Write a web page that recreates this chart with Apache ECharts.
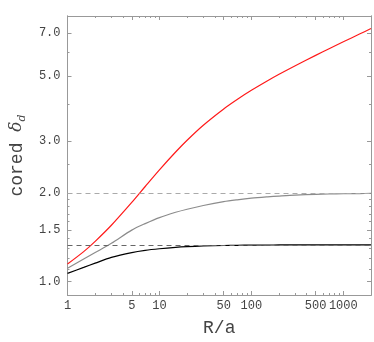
<!DOCTYPE html>
<html>
<head>
<meta charset="utf-8">
<script src="https://cdn.jsdelivr.net/npm/echarts@6/dist/echarts.min.js"></script>
<style>
  html, body { margin: 0; padding: 0; background: #fff; }
  #chart { width: 374px; height: 342px; }
</style>
</head>
<body>
<div id="chart"></div>
<script>
// R/a 采样点与三条曲线
const radii = [1, 1.5, 2, 3, 5, 7, 10, 15, 20, 30, 50, 70, 100, 150, 200, 300, 500, 700, 1000, 1500, 2000]
const redDelta = [1.147, 1.264, 1.370, 1.554, 1.858, 2.105, 2.398, 2.758, 3.024, 3.401, 3.864, 4.160, 4.469, 4.816, 5.066, 5.418, 5.877, 6.191, 6.537, 6.945, 7.25]
const grayDelta = [1.11, 1.193, 1.255, 1.349, 1.496, 1.574, 1.650, 1.720, 1.762, 1.814, 1.870, 1.897, 1.921, 1.941, 1.953, 1.968, 1.980, 1.985, 1.989, 1.992, 1.994]
const blackDelta = [1.066, 1.117, 1.155, 1.208, 1.255, 1.277, 1.293, 1.307, 1.314, 1.321, 1.326, 1.3284, 1.330, 1.3312, 1.3318, 1.3323, 1.3327, 1.3329, 1.3330, 1.3331, 1.3332]
const asymptotes = [2, 4 / 3]

const xMajor = [1, 5, 10, 50, 100, 500, 1000]
const xMinor = [2, 3, 4, 6, 7, 8, 9, 20, 30, 40, 60, 70, 80, 90, 200, 300, 400, 600, 700, 800, 900, 2000]
const yMajor = [1.0, 1.5, 2.0, 3.0, 5.0, 7.0]
const yMinor = [0.9, 1.1, 1.2, 1.3, 1.4, 1.6, 1.7, 1.8, 1.9, 2.5, 4, 6, 8]

const FRAME = '#999'
const MONO = '"Liberation Mono", "DejaVu Sans Mono", monospace'

const pairs = ys => radii.map((r, i) => [r, ys[i]])

// 一根只画刻度（或带标签）的坐标轴
function tickAxis(kind, position, ticks, len, withLabels) {
  const isX = kind === 'x'
  return {
    type: 'log',
    logBase: 10,
    position,
    min: isX ? 1 : 0.9,
    max: isX ? 2000 : 8,
    axisLine: { show: true, lineStyle: { color: FRAME, width: 1 } },
    axisTick: { show: true, inside: true, length: len, customValues: ticks, lineStyle: { color: FRAME } },
    axisLabel: withLabels
      ? {
          show: true,
          customValues: ticks,
          margin: isX ? 5 : 7,
          fontFamily: MONO,
          fontSize: 12,
          color: '#444',
          formatter: v => (isX ? String(v) : Number(v).toFixed(1))
        }
      : { show: false },
    splitLine: { show: false },
    minorTick: { show: false }
  }
}

const xAxes = [
  Object.assign(tickAxis('x', 'bottom', xMajor, 4, true), {
    name: 'R/a',
    nameLocation: 'middle',
    nameGap: 24,
    nameTextStyle: { fontFamily: MONO, fontSize: 18, color: '#444' }
  }),
  tickAxis('x', 'bottom', xMinor, 2, false),
  tickAxis('x', 'top', xMajor, 4, false),
  tickAxis('x', 'top', xMinor, 2, false)
]

const yAxes = [
  Object.assign(tickAxis('y', 'left', yMajor, 4, true), {
    name: '{a|cored }{b|δ}{c|d}',
    nameLocation: 'middle',
    nameGap: 34,
    nameTextStyle: {
      rich: {
        a: { fontFamily: MONO, fontSize: 18, color: '#444', lineHeight: 22 },
        b: { fontFamily: 'DejaVu Serif', fontStyle: 'italic', fontSize: 17, color: '#444', lineHeight: 22 },
        c: { fontFamily: 'DejaVu Serif', fontStyle: 'italic', fontSize: 11, color: '#444', lineHeight: 22, verticalAlign: 'bottom', padding: [6, 0, 0, 0] }
      }
    }
  }),
  tickAxis('y', 'left', yMinor, 2, false),
  tickAxis('y', 'right', yMajor, 4, false),
  tickAxis('y', 'right', yMinor, 2, false)
]

const curve = (name, ys, color, z) => ({
  name,
  type: 'line',
  xAxisIndex: 0,
  yAxisIndex: 0,
  data: pairs(ys),
  smooth: 0.3,
  symbol: 'none',
  z,
  lineStyle: { color, width: 1.2 }
})

const chart = echarts.init(document.getElementById('chart'))
chart.setOption({
  animation: false,
  backgroundColor: '#fff',
  grid: { left: 55, right: 3, top: 16, bottom: 42, containLabel: false },
  xAxis: xAxes,
  yAxis: yAxes,
  series: [
    {
      type: 'line',
      xAxisIndex: 0,
      yAxisIndex: 0,
      data: [],
      z: 1,
      markLine: {
        silent: true,
        symbol: 'none',
        label: { show: false },
        data: [
          { yAxis: asymptotes[0], lineStyle: { color: '#aaa', type: [5, 4], width: 1 } },
          { yAxis: asymptotes[1], lineStyle: { color: '#666', type: [5, 4], width: 1 } }
        ]
      }
    },
    curve('red', redDelta, '#ff1a1a', 3),
    curve('gray', grayDelta, '#8c8c8c', 2),
    curve('black', blackDelta, '#000', 4)
  ]
})
</script>
</body>
</html>
